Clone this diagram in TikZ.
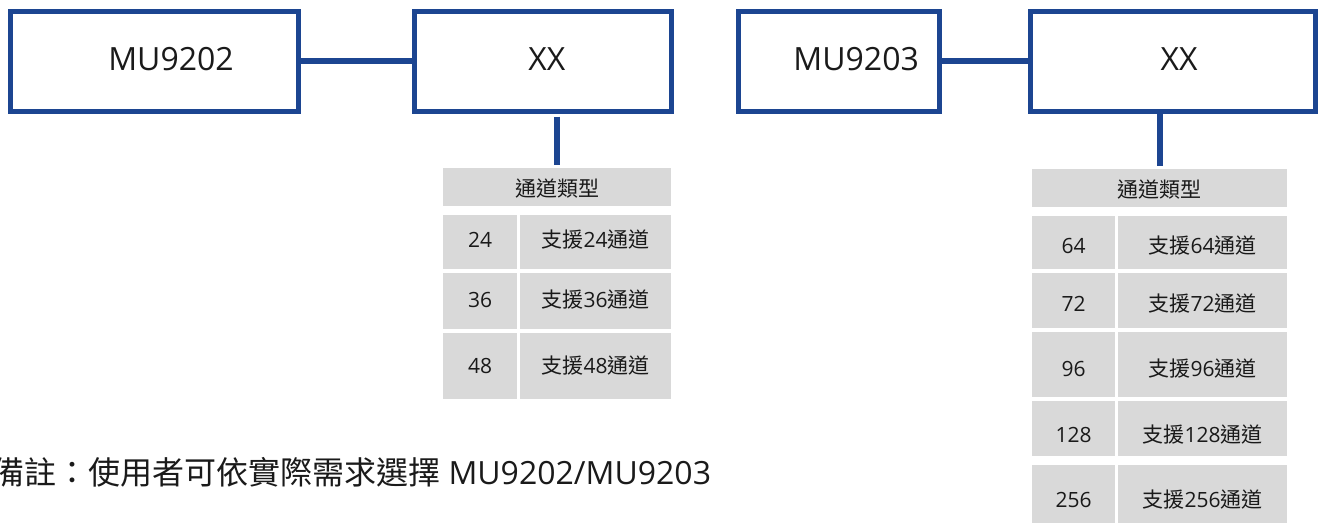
\documentclass[tikz,border=0pt]{standalone}
\usepackage{fontspec}
\setmainfont{Open Sans}
\newfontfamily\cjkf{Noto Sans CJK TC}
\newcommand\zh[1]{{\cjkf #1}}
\definecolor{lineblue}{RGB}{28,69,145}
\definecolor{cellgray}{HTML}{D9D9D9}
\definecolor{inkc}{HTML}{1A1A1A}
\begin{document}
\begin{tikzpicture}[x=1pt,y=-1pt,
  box/.style={draw=lineblue,line width=5pt,fill=white,inner sep=0pt,minimum height=99.5pt,
    font=\fontsize{32}{38}\selectfont,text height=19pt,text depth=0pt,text=inkc},
  conn/.style={draw=lineblue,line width=6pt},
  cell/.style={fill=cellgray,inner sep=0pt,font=\fontsize{21}{25}\selectfont,text depth=0pt,text=inkc},
  note/.style={inner sep=0pt,anchor=base west,font=\fontsize{32}{38}\selectfont,text=inkc}]
\useasboundingbox (0,0) rectangle (1321,522);

% top boxes
\node[box,minimum width=287.7pt] (b1) at (154.65,61.25) {\hspace*{32.7pt}MU9202};
\node[box,minimum width=257.3pt] (x1) at (542.85,61.25) {\hspace*{8pt}XX};
\node[box,minimum width=201.3pt] (b2) at (839.15,61.25) {\hspace*{34pt}MU9203};
\node[box,minimum width=284.4pt] (x2) at (1173,61.25) {\hspace*{12pt}XX};

% left table
\node[cell,minimum width=228pt,minimum height=38pt,text height=18pt] (h1) at (557,187) {\zh{通道類型}};
\node[cell,minimum width=74pt,minimum height=54pt,text height=10pt] (a11) at (480,242) {24};
\node[cell,minimum width=151pt,minimum height=54pt,text height=10pt] (d11) at (595.5,242) {\zh{支援}24\zh{通道}};
\node[cell,minimum width=74pt,minimum height=56pt,text height=12pt] (a12) at (480,301) {36};
\node[cell,minimum width=151pt,minimum height=56pt,text height=12pt] (d12) at (595.5,301) {\zh{支援}36\zh{通道}};
\node[cell,minimum width=74pt,minimum height=66pt,text height=14.4pt] (a13) at (480,366) {48};
\node[cell,minimum width=151pt,minimum height=66pt,text height=14.4pt] (d13) at (595.5,366) {\zh{支援}48\zh{通道}};

% right table
\node[cell,minimum width=255pt,minimum height=38pt,text height=18pt] (h2) at (1159.5,188) {\zh{通道類型}};
\node[cell,minimum width=83pt,minimum height=53pt,text height=21.6pt] (a21) at (1073.5,242.5) {64};
\node[cell,minimum width=169pt,minimum height=53pt,text height=21.6pt] (d21) at (1202.5,242.5) {\zh{支援}64\zh{通道}};
\node[cell,minimum width=83pt,minimum height=55pt,text height=22pt] (a22) at (1073.5,300.5) {72};
\node[cell,minimum width=169pt,minimum height=55pt,text height=22pt] (d22) at (1202.5,300.5) {\zh{支援}72\zh{通道}};
\node[cell,minimum width=83pt,minimum height=65pt,text height=24pt] (a23) at (1073.5,364.5) {96};
\node[cell,minimum width=169pt,minimum height=65pt,text height=24pt] (d23) at (1202.5,364.5) {\zh{支援}96\zh{通道}};
\node[cell,minimum width=83pt,minimum height=55pt,text height=27.4pt] (a24) at (1073.5,428.5) {128};
\node[cell,minimum width=169pt,minimum height=55pt,text height=27.4pt] (d24) at (1202.5,428.5) {\zh{支援}128\zh{通道}};
\node[cell,minimum width=83pt,minimum height=59pt,text height=26pt] (a25) at (1073.5,494.5) {256};
\node[cell,minimum width=169pt,minimum height=59pt,text height=26pt] (d25) at (1202.5,494.5) {\zh{支援}256\zh{通道}};

% connectors
\draw[conn] (b1.east) -- (x1.west);
\draw[conn] (b2.east) -- (x2.west);
\draw[conn,shorten <=3pt,shorten >=3pt] (x1.south -| h1.north) -- (h1.north);
\draw[conn,shorten >=3pt] (x2.south -| h2.north) -- (h2.north);

% note
\node[note] (nt) at (-8,484) {\zh{備註：使用者可依實際需求選擇} MU9202/MU9203};
\end{tikzpicture}
\end{document}
